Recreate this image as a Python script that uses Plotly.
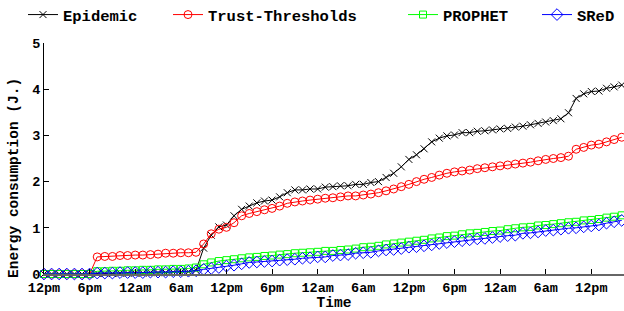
import plotly.graph_objects as go

hours = list(range(77))

epidemic = [0, 0, 0, 0, 0, 0, 0,
            0.01, 0.01, 0.01, 0.02, 0.02, 0.02, 0.02, 0.03, 0.03, 0.03, 0.04, 0.04, 0.05,
            0.08,
            0.56, 0.84, 1.02, 1.06, 1.26, 1.40, 1.47, 1.54, 1.58, 1.60, 1.67, 1.76, 1.82, 1.82, 1.84, 1.84, 1.88, 1.89,
            1.91, 1.91, 1.94, 1.94, 1.98, 2.00, 2.09, 2.18, 2.32, 2.48, 2.58, 2.71, 2.86, 2.94, 2.99, 3.01, 3.06, 3.06, 3.09,
            3.10, 3.12, 3.14, 3.15, 3.18, 3.20, 3.23, 3.26, 3.29, 3.32, 3.36, 3.49, 3.80, 3.90, 3.95, 3.96, 4.02, 4.05, 4.09]

trust = [0, 0, 0, 0, 0, 0, 0,
         0.37, 0.38, 0.38, 0.40, 0.40, 0.41, 0.41, 0.42, 0.43, 0.45, 0.45, 0.46, 0.46, 0.47,
         0.65, 0.87, 0.97, 1.01, 1.11, 1.26, 1.31, 1.35, 1.39, 1.42, 1.47, 1.53, 1.56, 1.58, 1.60, 1.62, 1.64, 1.65, 1.67,
         1.69, 1.69, 1.71, 1.73, 1.76, 1.80, 1.84, 1.89, 1.94, 2.00, 2.05, 2.09, 2.14, 2.18, 2.21, 2.23, 2.25, 2.28,
         2.30, 2.32, 2.34, 2.36, 2.38, 2.40, 2.42, 2.45, 2.48, 2.50, 2.52, 2.55, 2.70, 2.74, 2.79, 2.81, 2.86, 2.91, 2.96]

prophet = [0, 0, 0, 0, 0, 0, 0,
           0.06, 0.06, 0.07, 0.07, 0.08, 0.08, 0.09, 0.09, 0.10, 0.10, 0.11, 0.11, 0.12,
           0.14,
           0.21, 0.25, 0.28, 0.30, 0.32, 0.34, 0.36, 0.37, 0.39, 0.40, 0.42, 0.43, 0.45, 0.46, 0.47,
           0.48, 0.50, 0.50, 0.52, 0.53, 0.55, 0.58, 0.59, 0.61, 0.64, 0.66, 0.68, 0.70, 0.72, 0.74,
           0.77, 0.79, 0.82, 0.83, 0.86, 0.88, 0.89, 0.91, 0.93, 0.94, 0.97, 0.99, 1.01, 1.02, 1.05,
           1.06, 1.08, 1.10, 1.12, 1.13, 1.16, 1.17, 1.19, 1.22, 1.24, 1.27]

sred = [0, 0, 0, 0, 0, 0, 0,
        0.02, 0.02, 0.02, 0.03, 0.03, 0.03, 0.03, 0.04, 0.04, 0.04, 0.05, 0.05, 0.06,
        0.07,
        0.10, 0.12, 0.14, 0.17, 0.19, 0.22, 0.25, 0.26, 0.27, 0.28, 0.30, 0.31, 0.32, 0.34, 0.35,
        0.37, 0.37, 0.40, 0.41, 0.42, 0.45, 0.46, 0.47, 0.50, 0.52, 0.53, 0.55, 0.58, 0.59, 0.61,
        0.63, 0.66, 0.68, 0.70, 0.72, 0.74, 0.76, 0.77, 0.79, 0.81, 0.83, 0.84, 0.88, 0.89, 0.91,
        0.94, 0.95, 0.97, 0.99, 1.00, 1.02, 1.04, 1.06, 1.10, 1.13, 1.16]

tick_vals = list(range(0, 73, 6))
tick_text = ["12pm", "6pm", "12am", "6am", "12pm", "6pm", "12am", "6am", "12pm", "6pm", "12am", "6am", "12pm"]
y_ticks = [0, 1, 2, 3, 4, 5]

FONT = "Liberation Mono"

series = [
    ("Epidemic", epidemic, "#000000", "x-thin-open", 7, "legend"),
    ("Trust-Thresholds", trust, "#ff0000", "circle-open", 8, "legend2"),
    ("PROPHET", prophet, "#00ff00", "square-open", 7, "legend3"),
    ("SReD", sred, "#0000ff", "diamond-open", 9, "legend4"),
]

fig = go.Figure()
for name, vals, col, sym, sz, lg in series:
    fig.add_trace(go.Scatter(
        x=hours, y=vals, name=name, mode="lines+markers",
        line=dict(color=col, width=1),
        marker=dict(symbol=sym, size=sz, color=col, line=dict(color=col, width=1)),
        cliponaxis=False, legend=lg,
    ))

legend_x = [23, 168, 403, 537]
legend_common = dict(orientation="h", xref="container", yref="container",
                     yanchor="middle", xanchor="left", y=1 - 15 / 311,
                     font=dict(family=FONT, size=15.5, color="black", weight="bold"),
                     bgcolor="rgba(0,0,0,0)", borderwidth=0)

layout_legends = {}
for i, lx in enumerate(legend_x):
    key = "legend" if i == 0 else f"legend{i+1}"
    layout_legends[key] = dict(x=lx / 624, **legend_common)

fig.update_layout(
    width=624, height=311,
    margin=dict(l=44, r=0, t=43, b=37),
    paper_bgcolor="white", plot_bgcolor="white",
    font=dict(family=FONT, size=14, color="black", weight="bold"),
    showlegend=True,
    **layout_legends,
)
fig.add_annotation(
    text="Energy consumption (J.)", textangle=-90,
    xref="paper", yref="paper", x=(14 - 44) / 580, y=(274 - 178) / 231,
    xanchor="center", yanchor="middle", showarrow=False,
    font=dict(family=FONT, size=14.5, color="black", weight="bold"),
)
fig.update_xaxes(
    range=[0, 76.3], tickvals=tick_vals, ticktext=tick_text,
    ticks="inside", ticklen=5, tickcolor="black", tickwidth=1,
    showline=True, linecolor="#666666", linewidth=1.5,
    showgrid=False, zeroline=False, automargin=False,
    tickfont=dict(family=FONT, size=13.5, color="black", weight="bold"),
    title=dict(text="Time", standoff=0, font=dict(family=FONT, size=14.5, color="black", weight="bold")),
)
fig.update_yaxes(
    range=[0, 5], tickvals=y_ticks,
    ticks="inside", ticklen=5, tickcolor="black", tickwidth=1,
    showline=True, linecolor="black", linewidth=1,
    showgrid=False, zeroline=False, automargin=False,
    tickfont=dict(family=FONT, size=13.5, color="black", weight="bold"),
)

fig.write_html("out.html", config={"displayModeBar": False},
               post_script="document.body.style.margin='0';document.body.style.padding='0';")
